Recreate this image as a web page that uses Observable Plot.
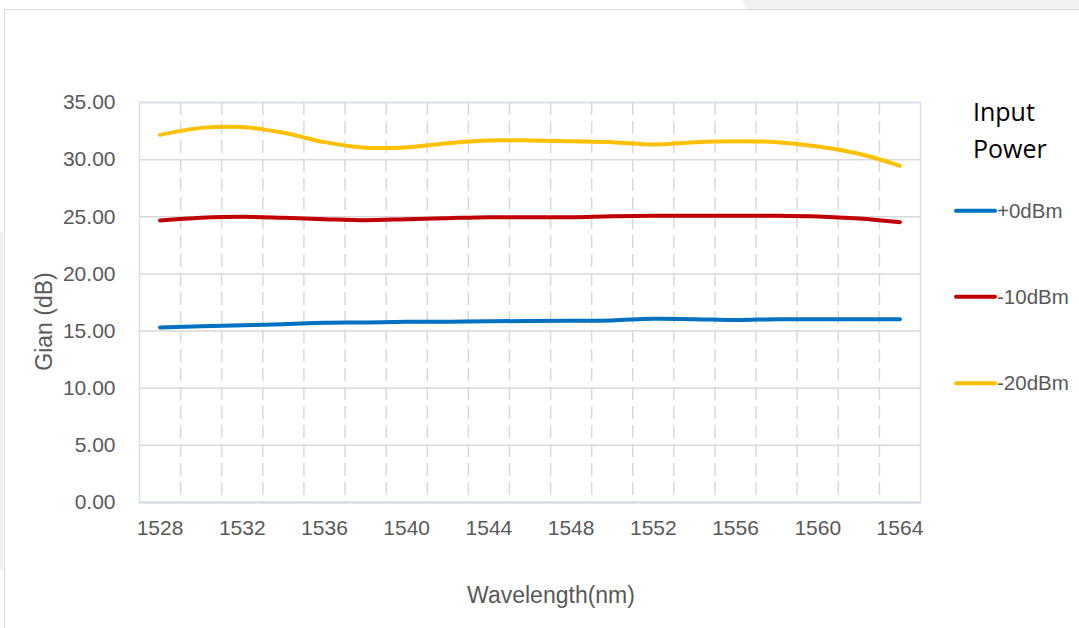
<!DOCTYPE html>
<html>
<head>
<meta charset="utf-8">
<script src="https://cdn.jsdelivr.net/npm/d3@7"></script>
<script src="https://cdn.jsdelivr.net/npm/@observablehq/plot@0.6"></script>
<style>
html, body { margin: 0; padding: 0; background: #fff; }
body { width: 1079px; height: 628px; overflow: hidden; position: relative; }
#trap { position: absolute; top: 0; left: 0; width: 1079px; height: 10px; background: #f2f2f2;
  clip-path: polygon(742px 0, 1079px 0, 1079px 10px, 748px 10px); }
#strip { position: absolute; left: 0; top: 232px; width: 3px; height: 338px; background: #f0f0f0; }
#panel { position: absolute; left: 4px; top: 9px; width: 1075px; height: 619px;
  border-left: 1.5px solid #d9d9d9; border-top: 1.5px solid #d9d9d9; background: #fff; box-sizing: border-box; }
#chart { position: absolute; left: 0; top: 0; }
</style>
</head>
<body>
<div id="trap"></div>
<div id="strip"></div>
<div id="panel"></div>
<div id="chart"></div>
<script>
// ---- data ----
const wavelength = [1528, 1530, 1532, 1534, 1536, 1538, 1540, 1542, 1544, 1546,
                    1548, 1550, 1552, 1554, 1556, 1558, 1560, 1562, 1564];
const gain0dBm   = [15.31, 15.43, 15.51, 15.60, 15.72, 15.75, 15.81, 15.81, 15.86, 15.88,
                    15.90, 15.93, 16.08, 16.04, 15.97, 16.04, 16.04, 16.04, 16.04];
const gainM10dBm = [24.68, 24.91, 25.00, 24.91, 24.79, 24.70, 24.79, 24.88, 24.96, 24.96,
                    24.96, 25.05, 25.09, 25.09, 25.09, 25.09, 25.03, 24.85, 24.53];
const gainM20dBm = [32.17, 32.78, 32.85, 32.35, 31.53, 31.04, 31.09, 31.44, 31.68, 31.68,
                    31.61, 31.53, 31.33, 31.53, 31.61, 31.53, 31.15, 30.51, 29.46];
const seriesNames = ["+0dBm", "-10dBm", "-20dBm"];
const xTickLabels = [1528, 1532, 1536, 1540, 1544, 1548, 1552, 1556, 1560, 1564];
const yTickLabels = [0, 5, 10, 15, 20, 25, 30, 35];
const legendTitle = ["Input", "Power"];

// ---- styles ----
const seriesColors = ["#0070c0", "#c00000", "#ffc000"];

const seriesValues = [gain0dBm, gainM10dBm, gainM20dBm];
const rows = [];
seriesNames.forEach((s, k) => {
  wavelength.forEach((w, i) => rows.push({w, g: seriesValues[k][i], s}));
});
// category boundaries (between every wavelength point)
const xGrid = wavelength.slice(0, -1).map((w, i) => (w + wavelength[i + 1]) / 2);

const chart = Plot.plot({
  width: 1079,
  height: 628,
  marginLeft: 139,
  marginRight: 159,
  marginTop: 102,
  marginBottom: 126,
  style: { background: "transparent", fontFamily: "'Liberation Sans', Arial, sans-serif", fontSize: "21px", color: "#595959" },
  x: { domain: [1527, 1565] },
  y: { domain: [0, 35] },
  color: { domain: seriesNames, range: seriesColors },
  marks: [
    Plot.ruleY(yTickLabels, { stroke: "#d9d9d9", strokeWidth: 1.5 }),
    Plot.ruleX(xGrid, { stroke: "#d9d9d9", strokeWidth: 1.5, strokeDasharray: "13,6" }),
    Plot.frame({ stroke: "#d7dfec", strokeWidth: 1.5 }),
    Plot.ruleY([0], { stroke: "#d0d6e0", strokeWidth: 1.5 }),
    Plot.line(rows, { x: "w", y: "g", z: "s", stroke: "s", strokeWidth: 4, curve: "catmull-rom", strokeLinecap: "round" }),
    Plot.axisX({ ticks: xTickLabels, tickFormat: d => String(d), tickSize: 0, tickPadding: 18, label: null }),
    Plot.axisY({ ticks: yTickLabels, tickFormat: d => d.toFixed(2), tickSize: 0, tickPadding: 24, label: null }),
    Plot.text(["Gian (dB)"], { frameAnchor: "left", textAnchor: "middle", lineAnchor: "middle", dx: -95, dy: 19, rotate: -90, fontSize: 23, fill: "#595959" }),
    Plot.text(["Wavelength(nm)"], { frameAnchor: "bottom", textAnchor: "middle", lineAnchor: "middle", dx: 21, dy: 93, fontSize: 23, fill: "#595959" })
  ]
});
document.getElementById("chart").appendChild(chart);

// ---- legend ----
const svg = d3.select(chart);
const lg = svg.append("g").attr("text-anchor", "start");
lg.selectAll("text.title").data(legendTitle).join("text")
  .attr("x", 973).attr("y", (d, i) => 121 + i * 37)
  .attr("font-family", "'Open Sans', 'Noto Sans', sans-serif")
  .attr("font-size", 25).attr("fill", "#000").text(d => d);
const items = lg.selectAll("g.item").data(seriesNames).join("g")
  .attr("transform", (d, i) => `translate(0, ${[210.7, 296.7, 383.3][i]})`);
items.append("line").attr("x1", 956).attr("x2", 995).attr("y1", 0).attr("y2", 0)
  .attr("stroke", (d, i) => seriesColors[i]).attr("stroke-width", 4).attr("stroke-linecap", "round");
items.append("text").attr("x", 997).attr("y", 0).attr("dy", "0.35em")
  .attr("font-family", "'Liberation Sans', Arial, sans-serif").attr("font-size", 20.5)
  .attr("fill", "#595959").text(d => d);
</script>
</body>
</html>
